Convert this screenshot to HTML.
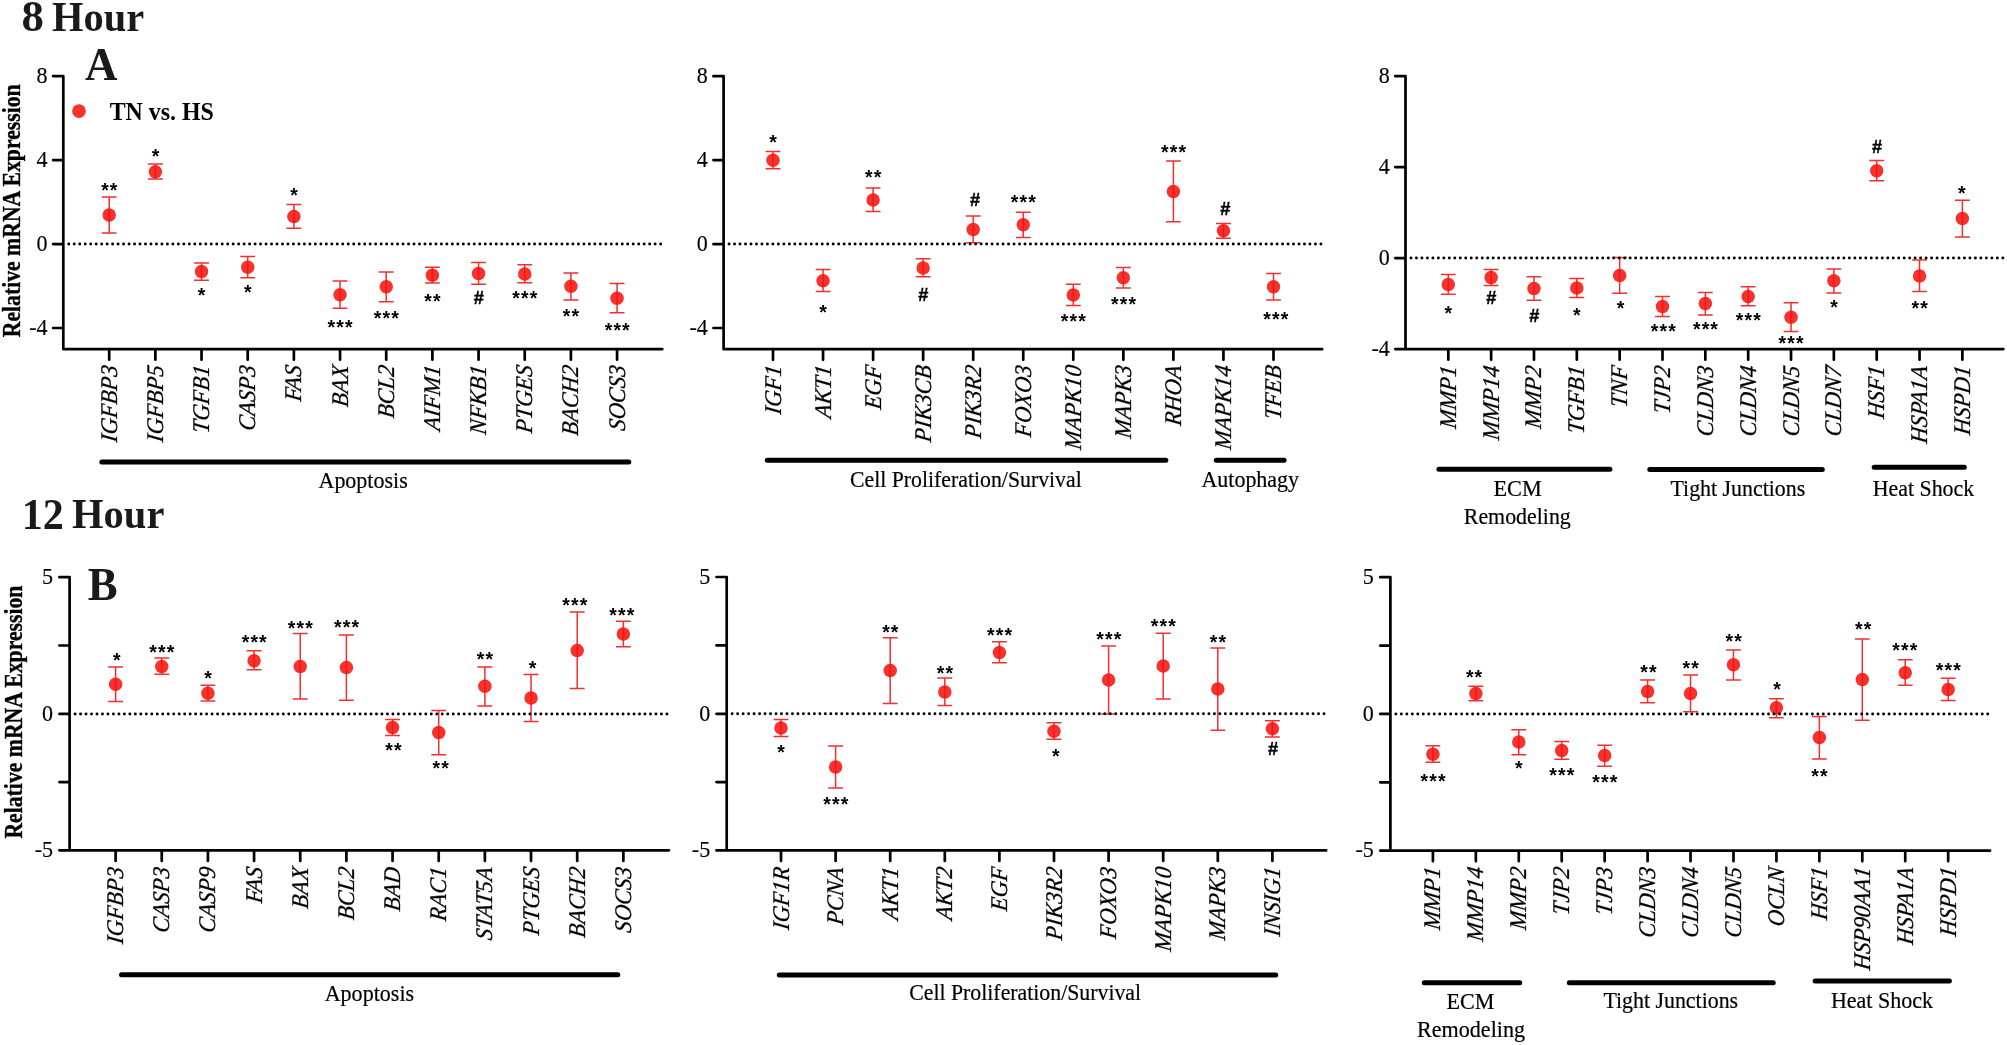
<!DOCTYPE html>
<html lang="en"><head><meta charset="utf-8"><title>Relative mRNA Expression</title>
<style>html,body{margin:0;padding:0;background:#fff}svg{display:block;filter:blur(.45px)}.ax{stroke:#000;stroke-width:2.7;fill:none;stroke-linecap:round;stroke-linejoin:round}.dot{stroke:#000;stroke-width:2.95;stroke-linecap:round;stroke-dasharray:0.01 5.47;fill:none}.bar{stroke:#000;stroke-width:5;stroke-linecap:round;fill:none}.eb{stroke:#f03030;stroke-width:1.5;fill:none}.core{stroke:#f41616;stroke-width:1.5;fill:none}.pt{fill:#f7312c}.g{font-family:'Liberation Serif', 'Times New Roman', Times, serif;font-style:italic;font-size:23.9px;fill:#000;text-anchor:end;stroke:#000;stroke-width:.25px}.tk{font-family:'Liberation Serif', 'Times New Roman', Times, serif;font-size:24px;fill:#000;text-anchor:end;stroke:#000;stroke-width:.15px}.grp{font-family:'Liberation Serif', 'Times New Roman', Times, serif;font-size:23.2px;fill:#000;stroke:#000;stroke-width:.2px}.b{font-family:'Liberation Serif', 'Times New Roman', Times, serif;font-weight:bold;fill:#1a1a1a}.k{fill:#000}.yt{stroke:#000;stroke-width:.35px}.st{font-family:'Liberation Sans', Arial, Helvetica, sans-serif;font-weight:bold;font-size:19.5px;fill:#000;text-anchor:middle}.s3{letter-spacing:1.15px}.h{font-size:18.2px;stroke:#000;stroke-width:.4px}</style></head><body>
<svg width="2007" height="1045" viewBox="0 0 2007 1045">
<rect width="2007" height="1045" fill="#fff"/>
<text class="b" x="21.6" y="31.3" font-size="44.8">8</text>
<text class="b" x="52.1" y="30.8" font-size="42.6" textLength="92.1" lengthAdjust="spacingAndGlyphs">Hour</text>
<text class="b" x="85.0" y="79.8" font-size="47.3" textLength="32.5" lengthAdjust="spacingAndGlyphs">A</text>
<text class="b" x="21.7" y="528.6" font-size="44.5" textLength="42.1" lengthAdjust="spacingAndGlyphs">12</text>
<text class="b" x="72.1" y="528.2" font-size="42.4" textLength="92.3" lengthAdjust="spacingAndGlyphs">Hour</text>
<text class="b" x="87.8" y="599.6" font-size="46.6" textLength="29.9" lengthAdjust="spacingAndGlyphs">B</text>
<circle class="pt" cx="79.0" cy="111.05" r="6.85"/>
<text class="b k" x="109.7" y="119.6" font-size="25.7" textLength="104.2" lengthAdjust="spacingAndGlyphs">TN vs. HS</text>
<text class="b k yt" font-size="24.6" transform="translate(19.9 337.3) rotate(-90)" textLength="253" lengthAdjust="spacingAndGlyphs">Relative mRNA Expression</text>
<text class="b k yt" font-size="24.6" transform="translate(21.7 838.6) rotate(-90)" textLength="253" lengthAdjust="spacingAndGlyphs">Relative mRNA Expression</text>
<g id="A1">
<path class="ax" d="M63.3 76.2V349.1H662.35M53.1 76.2H63.3M53.1 160.1H63.3M53.1 244.05H63.3M53.1 328H63.3M109.2 349.1V359.7M155.37 349.1V359.7M201.54 349.1V359.7M247.71 349.1V359.7M293.88 349.1V359.7M340.05 349.1V359.7M386.22 349.1V359.7M432.39 349.1V359.7M478.56 349.1V359.7M524.73 349.1V359.7M570.9 349.1V359.7M617.07 349.1V359.7"/>
<text class="tk" transform="translate(47.6 82.9) scale(0.92 1)">8</text>
<text class="tk" transform="translate(47.6 166.8) scale(0.92 1)">4</text>
<text class="tk" transform="translate(47.6 250.75) scale(0.92 1)">0</text>
<text class="tk" transform="translate(47.6 334.7) scale(0.92 1)">-4</text>
<text class="g" transform="translate(116.7 366) rotate(-90) scale(0.947 1) skewX(-7)">IGFBP3</text>
<text class="g" transform="translate(162.87 366) rotate(-90) scale(0.947 1) skewX(-7)">IGFBP5</text>
<text class="g" transform="translate(209.04 366) rotate(-90) scale(0.947 1) skewX(-7)">TGFB1</text>
<text class="g" transform="translate(255.21 366) rotate(-90) scale(0.947 1) skewX(-7)">CASP3</text>
<text class="g" transform="translate(301.38 366) rotate(-90) scale(0.947 1) skewX(-7)">FAS</text>
<text class="g" transform="translate(347.55 366) rotate(-90) scale(0.947 1) skewX(-7)">BAX</text>
<text class="g" transform="translate(393.72 366) rotate(-90) scale(0.947 1) skewX(-7)">BCL2</text>
<text class="g" transform="translate(439.89 366) rotate(-90) scale(0.947 1) skewX(-7)">AIFM1</text>
<text class="g" transform="translate(486.06 366) rotate(-90) scale(0.947 1) skewX(-7)">NFKB1</text>
<text class="g" transform="translate(532.23 366) rotate(-90) scale(0.947 1) skewX(-7)">PTGES</text>
<text class="g" transform="translate(578.4 366) rotate(-90) scale(0.947 1) skewX(-7)">BACH2</text>
<text class="g" transform="translate(624.57 366) rotate(-90) scale(0.947 1) skewX(-7)">SOCS3</text>
<path class="eb" d="M109.2 196.9V232.9M101.8 196.9H116.6M101.8 232.9H116.6"/>
<circle class="pt" cx="109.2" cy="215" r="6.75"/>
<path class="core" d="M109.2 208.55V221.45"/>
<text class="st s3" x="109.88" y="197.09">**</text>
<path class="eb" d="M155.37 164V179M147.97 164H162.77M147.97 179H162.77"/>
<circle class="pt" cx="155.37" cy="171.8" r="6.75"/>
<path class="core" d="M155.37 165.35V178.25"/>
<text class="st s3" x="156.04" y="163.29">*</text>
<path class="eb" d="M201.54 263V280.3M194.14 263H208.94M194.14 280.3H208.94"/>
<circle class="pt" cx="201.54" cy="271.4" r="6.75"/>
<path class="core" d="M201.54 264.95V277.85"/>
<text class="st s3" x="202.22" y="302.49">*</text>
<path class="eb" d="M247.71 256.4V277.7M240.31 256.4H255.11M240.31 277.7H255.11"/>
<circle class="pt" cx="247.71" cy="267.2" r="6.75"/>
<path class="core" d="M247.71 260.75V273.65"/>
<text class="st s3" x="248.38" y="299.09">*</text>
<path class="eb" d="M293.88 204.4V228.3M286.48 204.4H301.28M286.48 228.3H301.28"/>
<circle class="pt" cx="293.88" cy="216.5" r="6.75"/>
<path class="core" d="M293.88 210.05V222.95"/>
<text class="st s3" x="294.56" y="202.09">*</text>
<path class="eb" d="M340.05 281.1V308.2M332.65 281.1H347.45M332.65 308.2H347.45"/>
<circle class="pt" cx="340.05" cy="294.7" r="6.75"/>
<path class="core" d="M340.05 288.25V301.15"/>
<text class="st s3" x="340.73" y="333.79">***</text>
<path class="eb" d="M386.22 272V301.8M378.82 272H393.62M378.82 301.8H393.62"/>
<circle class="pt" cx="386.22" cy="286.8" r="6.75"/>
<path class="core" d="M386.22 280.35V293.25"/>
<text class="st s3" x="386.89" y="324.69">***</text>
<path class="eb" d="M432.39 267.3V283.1M424.99 267.3H439.79M424.99 283.1H439.79"/>
<circle class="pt" cx="432.39" cy="275.3" r="6.75"/>
<path class="core" d="M432.39 268.85V281.75"/>
<text class="st s3" x="433.06" y="308.39">**</text>
<path class="eb" d="M478.56 262.6V284.2M471.16 262.6H485.96M471.16 284.2H485.96"/>
<circle class="pt" cx="478.56" cy="273.5" r="6.75"/>
<path class="core" d="M478.56 267.05V279.95"/>
<text class="st h" x="478.81" y="303.6">#</text>
<path class="eb" d="M524.73 264.7V282.8M517.33 264.7H532.13M517.33 282.8H532.13"/>
<circle class="pt" cx="524.73" cy="274" r="6.75"/>
<path class="core" d="M524.73 267.55V280.45"/>
<text class="st s3" x="525.41" y="304.99">***</text>
<path class="eb" d="M570.9 272.9V299.9M563.5 272.9H578.3M563.5 299.9H578.3"/>
<circle class="pt" cx="570.9" cy="286.3" r="6.75"/>
<path class="core" d="M570.9 279.85V292.75"/>
<text class="st s3" x="571.58" y="323.29">**</text>
<path class="eb" d="M617.07 283.4V312.7M609.67 283.4H624.47M609.67 312.7H624.47"/>
<circle class="pt" cx="617.07" cy="298.3" r="6.75"/>
<path class="core" d="M617.07 291.85V304.75"/>
<text class="st s3" x="617.75" y="337.19">***</text>
<line class="dot" x1="68.77" y1="244.05" x2="663" y2="244.05"/>
<line class="bar" x1="101.8" y1="462" x2="628.8" y2="462"/>
<text class="grp" x="318.5" y="488.3" textLength="89.2" lengthAdjust="spacingAndGlyphs">Apoptosis</text>
</g>
<g id="A2">
<path class="ax" d="M723.6 76.2V349.2H1322.15M713.4 76.2H723.6M713.4 160.1H723.6M713.4 244.05H723.6M713.4 328H723.6M773 349.2V359.8M823.05 349.2V359.8M873.1 349.2V359.8M923.15 349.2V359.8M973.2 349.2V359.8M1023.25 349.2V359.8M1073.3 349.2V359.8M1123.35 349.2V359.8M1173.4 349.2V359.8M1223.45 349.2V359.8M1273.5 349.2V359.8"/>
<text class="tk" transform="translate(707.9 82.9) scale(0.92 1)">8</text>
<text class="tk" transform="translate(707.9 166.8) scale(0.92 1)">4</text>
<text class="tk" transform="translate(707.9 250.75) scale(0.92 1)">0</text>
<text class="tk" transform="translate(707.9 334.7) scale(0.92 1)">-4</text>
<text class="g" transform="translate(780.5 366) rotate(-90) scale(0.947 1) skewX(-7)">IGF1</text>
<text class="g" transform="translate(830.55 366) rotate(-90) scale(0.947 1) skewX(-7)">AKT1</text>
<text class="g" transform="translate(880.6 366) rotate(-90) scale(0.947 1) skewX(-7)">EGF</text>
<text class="g" transform="translate(930.65 366) rotate(-90) scale(0.947 1) skewX(-7)">PIK3CB</text>
<text class="g" transform="translate(980.7 366) rotate(-90) scale(0.947 1) skewX(-7)">PIK3R2</text>
<text class="g" transform="translate(1030.75 366) rotate(-90) scale(0.947 1) skewX(-7)">FOXO3</text>
<text class="g" transform="translate(1080.8 366) rotate(-90) scale(0.947 1) skewX(-7)">MAPK10</text>
<text class="g" transform="translate(1130.85 366) rotate(-90) scale(0.947 1) skewX(-7)">MAPK3</text>
<text class="g" transform="translate(1180.9 366) rotate(-90) scale(0.947 1) skewX(-7)">RHOA</text>
<text class="g" transform="translate(1230.95 366) rotate(-90) scale(0.947 1) skewX(-7)">MAPK14</text>
<text class="g" transform="translate(1281 366) rotate(-90) scale(0.947 1) skewX(-7)">TFEB</text>
<path class="eb" d="M773 151.6V168.7M765.6 151.6H780.4M765.6 168.7H780.4"/>
<circle class="pt" cx="773" cy="160.2" r="6.75"/>
<path class="core" d="M773 153.75V166.65"/>
<text class="st s3" x="773.68" y="148.89">*</text>
<path class="eb" d="M823.05 269.5V291.6M815.65 269.5H830.45M815.65 291.6H830.45"/>
<circle class="pt" cx="823.05" cy="280.7" r="6.75"/>
<path class="core" d="M823.05 274.25V287.15"/>
<text class="st s3" x="823.73" y="318.99">*</text>
<path class="eb" d="M873.1 187.9V211.4M865.7 187.9H880.5M865.7 211.4H880.5"/>
<circle class="pt" cx="873.1" cy="199.9" r="6.75"/>
<path class="core" d="M873.1 193.45V206.35"/>
<text class="st s3" x="873.78" y="184.09">**</text>
<path class="eb" d="M923.15 258.8V276.7M915.75 258.8H930.55M915.75 276.7H930.55"/>
<circle class="pt" cx="923.15" cy="267.9" r="6.75"/>
<path class="core" d="M923.15 261.45V274.35"/>
<text class="st h" x="923.4" y="301.4">#</text>
<path class="eb" d="M973.2 216V242.8M965.8 216H980.6M965.8 242.8H980.6"/>
<circle class="pt" cx="973.2" cy="229.6" r="6.75"/>
<path class="core" d="M973.2 223.15V236.05"/>
<text class="st h" x="975.05" y="205.7">#</text>
<path class="eb" d="M1023.25 212.2V237.6M1015.85 212.2H1030.65M1015.85 237.6H1030.65"/>
<circle class="pt" cx="1023.25" cy="224.7" r="6.75"/>
<path class="core" d="M1023.25 218.25V231.15"/>
<text class="st s3" x="1023.93" y="208.59">***</text>
<path class="eb" d="M1073.3 284.2V305.5M1065.9 284.2H1080.7M1065.9 305.5H1080.7"/>
<circle class="pt" cx="1073.3" cy="295.1" r="6.75"/>
<path class="core" d="M1073.3 288.65V301.55"/>
<text class="st s3" x="1073.97" y="328.09">***</text>
<path class="eb" d="M1123.35 267.5V287.9M1115.95 267.5H1130.75M1115.95 287.9H1130.75"/>
<circle class="pt" cx="1123.35" cy="277.8" r="6.75"/>
<path class="core" d="M1123.35 271.35V284.25"/>
<text class="st s3" x="1124.02" y="310.79">***</text>
<path class="eb" d="M1173.4 161.1V221.8M1166 161.1H1180.8M1166 221.8H1180.8"/>
<circle class="pt" cx="1173.4" cy="191.5" r="6.75"/>
<path class="core" d="M1173.4 185.05V197.95"/>
<text class="st s3" x="1174.08" y="158.59">***</text>
<path class="eb" d="M1223.45 223.6V238.3M1216.05 223.6H1230.85M1216.05 238.3H1230.85"/>
<circle class="pt" cx="1223.45" cy="230.8" r="6.75"/>
<path class="core" d="M1223.45 224.35V237.25"/>
<text class="st h" x="1225.3" y="215.3">#</text>
<path class="eb" d="M1273.5 273.5V300.1M1266.1 273.5H1280.9M1266.1 300.1H1280.9"/>
<circle class="pt" cx="1273.5" cy="286.8" r="6.75"/>
<path class="core" d="M1273.5 280.35V293.25"/>
<text class="st s3" x="1276.38" y="325.69">***</text>
<line class="dot" x1="729.07" y1="244.05" x2="1323" y2="244.05"/>
<line class="bar" x1="767.3" y1="460.2" x2="1165.8" y2="460.2"/>
<text class="grp" x="850" y="487" textLength="231.7" lengthAdjust="spacingAndGlyphs">Cell Proliferation/Survival</text>
<line class="bar" x1="1216.3" y1="460.2" x2="1284.1" y2="460.2"/>
<text class="grp" x="1201.5" y="487" textLength="97.5" lengthAdjust="spacingAndGlyphs">Autophagy</text>
</g>
<g id="A3">
<path class="ax" d="M1405.5 76.2V349.1H2003.35M1395.3 76.2H1405.5M1395.3 167.2H1405.5M1395.3 258.1H1405.5M1395.3 349.1H1405.5M1448.3 349.1V359.7M1491.14 349.1V359.7M1533.98 349.1V359.7M1576.82 349.1V359.7M1619.66 349.1V359.7M1662.5 349.1V359.7M1705.34 349.1V359.7M1748.18 349.1V359.7M1791.02 349.1V359.7M1833.86 349.1V359.7M1876.7 349.1V359.7M1919.54 349.1V359.7M1962.38 349.1V359.7"/>
<text class="tk" transform="translate(1389.8 82.9) scale(0.92 1)">8</text>
<text class="tk" transform="translate(1389.8 173.9) scale(0.92 1)">4</text>
<text class="tk" transform="translate(1389.8 264.8) scale(0.92 1)">0</text>
<text class="tk" transform="translate(1389.8 355.8) scale(0.92 1)">-4</text>
<text class="g" transform="translate(1455.8 366.5) rotate(-90) scale(0.947 1) skewX(-7)">MMP1</text>
<text class="g" transform="translate(1498.64 366.5) rotate(-90) scale(0.947 1) skewX(-7)">MMP14</text>
<text class="g" transform="translate(1541.48 366.5) rotate(-90) scale(0.947 1) skewX(-7)">MMP2</text>
<text class="g" transform="translate(1584.32 366.5) rotate(-90) scale(0.947 1) skewX(-7)">TGFB1</text>
<text class="g" transform="translate(1627.16 366.5) rotate(-90) scale(0.947 1) skewX(-7)">TNF</text>
<text class="g" transform="translate(1670 366.5) rotate(-90) scale(0.947 1) skewX(-7)">TJP2</text>
<text class="g" transform="translate(1712.84 366.5) rotate(-90) scale(0.947 1) skewX(-7)">CLDN3</text>
<text class="g" transform="translate(1755.68 366.5) rotate(-90) scale(0.947 1) skewX(-7)">CLDN4</text>
<text class="g" transform="translate(1798.52 366.5) rotate(-90) scale(0.947 1) skewX(-7)">CLDN5</text>
<text class="g" transform="translate(1841.36 366.5) rotate(-90) scale(0.947 1) skewX(-7)">CLDN7</text>
<text class="g" transform="translate(1884.2 366.5) rotate(-90) scale(0.947 1) skewX(-7)">HSF1</text>
<text class="g" transform="translate(1927.04 366.5) rotate(-90) scale(0.947 1) skewX(-7)">HSPA1A</text>
<text class="g" transform="translate(1969.88 366.5) rotate(-90) scale(0.947 1) skewX(-7)">HSPD1</text>
<path class="eb" d="M1448.3 274.6V294.3M1440.9 274.6H1455.7M1440.9 294.3H1455.7"/>
<circle class="pt" cx="1448.3" cy="284.4" r="6.75"/>
<path class="core" d="M1448.3 277.95V290.85"/>
<text class="st s3" x="1448.97" y="320.39">*</text>
<path class="eb" d="M1491.14 269.5V285.5M1483.74 269.5H1498.54M1483.74 285.5H1498.54"/>
<circle class="pt" cx="1491.14" cy="277.5" r="6.75"/>
<path class="core" d="M1491.14 271.05V283.95"/>
<text class="st h" x="1491.39" y="304.1">#</text>
<path class="eb" d="M1533.98 276.7V300.2M1526.58 276.7H1541.38M1526.58 300.2H1541.38"/>
<circle class="pt" cx="1533.98" cy="288.4" r="6.75"/>
<path class="core" d="M1533.98 281.95V294.85"/>
<text class="st h" x="1534.23" y="321.7">#</text>
<path class="eb" d="M1576.82 278.6V297.5M1569.42 278.6H1584.22M1569.42 297.5H1584.22"/>
<circle class="pt" cx="1576.82" cy="287.9" r="6.75"/>
<path class="core" d="M1576.82 281.45V294.35"/>
<text class="st s3" x="1577.49" y="322.49">*</text>
<path class="eb" d="M1619.66 257.5V293.2M1612.26 257.5H1627.06M1612.26 293.2H1627.06"/>
<circle class="pt" cx="1619.66" cy="275.4" r="6.75"/>
<path class="core" d="M1619.66 268.95V281.85"/>
<text class="st s3" x="1621.13" y="314.79">*</text>
<path class="eb" d="M1662.5 296.4V316.4M1655.1 296.4H1669.9M1655.1 316.4H1669.9"/>
<circle class="pt" cx="1662.5" cy="306.6" r="6.75"/>
<path class="core" d="M1662.5 300.15V313.05"/>
<text class="st s3" x="1663.97" y="338.19">***</text>
<path class="eb" d="M1705.34 292.4V315.1M1697.94 292.4H1712.74M1697.94 315.1H1712.74"/>
<circle class="pt" cx="1705.34" cy="303.4" r="6.75"/>
<path class="core" d="M1705.34 296.95V309.85"/>
<text class="st s3" x="1706.01" y="336.09">***</text>
<path class="eb" d="M1748.18 286.8V305.8M1740.78 286.8H1755.58M1740.78 305.8H1755.58"/>
<circle class="pt" cx="1748.18" cy="296.4" r="6.75"/>
<path class="core" d="M1748.18 289.95V302.85"/>
<text class="st s3" x="1748.85" y="327.29">***</text>
<path class="eb" d="M1791.02 302.8V331.4M1783.62 302.8H1798.42M1783.62 331.4H1798.42"/>
<circle class="pt" cx="1791.02" cy="317.2" r="6.75"/>
<path class="core" d="M1791.02 310.75V323.65"/>
<text class="st s3" x="1791.69" y="349.69">***</text>
<path class="eb" d="M1833.86 269.1V293M1826.46 269.1H1841.26M1826.46 293H1841.26"/>
<circle class="pt" cx="1833.86" cy="280.7" r="6.75"/>
<path class="core" d="M1833.86 274.25V287.15"/>
<text class="st s3" x="1834.54" y="313.99">*</text>
<path class="eb" d="M1876.7 160.4V180.7M1869.3 160.4H1884.1M1869.3 180.7H1884.1"/>
<circle class="pt" cx="1876.7" cy="170.8" r="6.75"/>
<path class="core" d="M1876.7 164.35V177.25"/>
<text class="st h" x="1876.95" y="152.5">#</text>
<path class="eb" d="M1919.54 260V291.5M1912.14 260H1926.94M1912.14 291.5H1926.94"/>
<circle class="pt" cx="1919.54" cy="275.9" r="6.75"/>
<path class="core" d="M1919.54 269.45V282.35"/>
<text class="st s3" x="1920.21" y="315.29">**</text>
<path class="eb" d="M1962.38 200.2V237M1954.98 200.2H1969.78M1954.98 237H1969.78"/>
<circle class="pt" cx="1962.38" cy="218.6" r="6.75"/>
<path class="core" d="M1962.38 212.15V225.05"/>
<text class="st s3" x="1962.26" y="199.69">*</text>
<line class="dot" x1="1410.97" y1="258.05" x2="2004" y2="258.05"/>
<line class="bar" x1="1438.9" y1="469.3" x2="1609.9" y2="469.3"/>
<text class="grp" x="1493.5" y="496" textLength="48.2" lengthAdjust="spacingAndGlyphs">ECM</text>
<text class="grp" x="1463.8" y="523.7" textLength="107" lengthAdjust="spacingAndGlyphs">Remodeling</text>
<line class="bar" x1="1649.8" y1="469.6" x2="1822.3" y2="469.6"/>
<text class="grp" x="1670.5" y="496" textLength="134.7" lengthAdjust="spacingAndGlyphs">Tight Junctions</text>
<line class="bar" x1="1874.2" y1="467.3" x2="1964.3" y2="467.3"/>
<text class="grp" x="1872.7" y="496" textLength="101.5" lengthAdjust="spacingAndGlyphs">Heat Shock</text>
</g>
<g id="B1">
<path class="ax" d="M69.6 577.2V850.3H668.95M59.4 577.2H69.6M59.4 645.5H69.6M59.4 713.8H69.6M59.4 782.1H69.6M59.4 850.3H69.6M115.6 850.3V860.9M161.76 850.3V860.9M207.92 850.3V860.9M254.08 850.3V860.9M300.24 850.3V860.9M346.4 850.3V860.9M392.56 850.3V860.9M438.72 850.3V860.9M484.88 850.3V860.9M531.04 850.3V860.9M577.2 850.3V860.9M623.36 850.3V860.9"/>
<text class="tk" transform="translate(53.1 583.9) scale(0.92 1)">5</text>
<text class="tk" transform="translate(53.1 720.5) scale(0.92 1)">0</text>
<text class="tk" transform="translate(53.1 857) scale(0.92 1)">-5</text>
<text class="g" transform="translate(123.1 867.8) rotate(-90) scale(0.947 1) skewX(-7)">IGFBP3</text>
<text class="g" transform="translate(169.26 867.8) rotate(-90) scale(0.947 1) skewX(-7)">CASP3</text>
<text class="g" transform="translate(215.42 867.8) rotate(-90) scale(0.947 1) skewX(-7)">CASP9</text>
<text class="g" transform="translate(261.58 867.8) rotate(-90) scale(0.947 1) skewX(-7)">FAS</text>
<text class="g" transform="translate(307.74 867.8) rotate(-90) scale(0.947 1) skewX(-7)">BAX</text>
<text class="g" transform="translate(353.9 867.8) rotate(-90) scale(0.947 1) skewX(-7)">BCL2</text>
<text class="g" transform="translate(400.06 867.8) rotate(-90) scale(0.947 1) skewX(-7)">BAD</text>
<text class="g" transform="translate(446.22 867.8) rotate(-90) scale(0.947 1) skewX(-7)">RAC1</text>
<text class="g" transform="translate(492.38 867.8) rotate(-90) scale(0.947 1) skewX(-7)">STAT5A</text>
<text class="g" transform="translate(538.54 867.8) rotate(-90) scale(0.947 1) skewX(-7)">PTGES</text>
<text class="g" transform="translate(584.7 867.8) rotate(-90) scale(0.947 1) skewX(-7)">BACH2</text>
<text class="g" transform="translate(630.86 867.8) rotate(-90) scale(0.947 1) skewX(-7)">SOCS3</text>
<path class="eb" d="M115.6 666.9V701.5M108.2 666.9H123M108.2 701.5H123"/>
<circle class="pt" cx="115.6" cy="684.3" r="6.75"/>
<path class="core" d="M115.6 677.85V690.75"/>
<text class="st s3" x="117.27" y="666.79">*</text>
<path class="eb" d="M161.76 658V674.2M154.36 658H169.16M154.36 674.2H169.16"/>
<circle class="pt" cx="161.76" cy="666.4" r="6.75"/>
<path class="core" d="M161.76 659.95V672.85"/>
<text class="st s3" x="162.43" y="658.59">***</text>
<path class="eb" d="M207.92 685.3V700.9M200.52 685.3H215.32M200.52 700.9H215.32"/>
<circle class="pt" cx="207.92" cy="693.3" r="6.75"/>
<path class="core" d="M207.92 686.85V699.75"/>
<text class="st s3" x="208.59" y="685.29">*</text>
<path class="eb" d="M254.08 650.8V669.8M246.68 650.8H261.48M246.68 669.8H261.48"/>
<circle class="pt" cx="254.08" cy="660.8" r="6.75"/>
<path class="core" d="M254.08 654.35V667.25"/>
<text class="st s3" x="254.75" y="648.89">***</text>
<path class="eb" d="M300.24 633.5V698.9M292.84 633.5H307.64M292.84 698.9H307.64"/>
<circle class="pt" cx="300.24" cy="666.4" r="6.75"/>
<path class="core" d="M300.24 659.95V672.85"/>
<text class="st s3" x="300.92" y="634.89">***</text>
<path class="eb" d="M346.4 634.9V700.3M339 634.9H353.8M339 700.3H353.8"/>
<circle class="pt" cx="346.4" cy="667.4" r="6.75"/>
<path class="core" d="M346.4 660.95V673.85"/>
<text class="st s3" x="347.07" y="634.29">***</text>
<path class="eb" d="M392.56 719.4V735.5M385.16 719.4H399.96M385.16 735.5H399.96"/>
<circle class="pt" cx="392.56" cy="727.5" r="6.75"/>
<path class="core" d="M392.56 721.05V733.95"/>
<text class="st s3" x="394.03" y="756.99">**</text>
<path class="eb" d="M438.72 710.6V754.7M431.32 710.6H446.12M431.32 754.7H446.12"/>
<circle class="pt" cx="438.72" cy="732.5" r="6.75"/>
<path class="core" d="M438.72 726.05V738.95"/>
<text class="st s3" x="441.3" y="774.89">**</text>
<path class="eb" d="M484.88 667V705.9M477.48 667H492.28M477.48 705.9H492.28"/>
<circle class="pt" cx="484.88" cy="686.2" r="6.75"/>
<path class="core" d="M484.88 679.75V692.65"/>
<text class="st s3" x="485.56" y="666.09">**</text>
<path class="eb" d="M531.04 674.4V721.5M523.64 674.4H538.44M523.64 721.5H538.44"/>
<circle class="pt" cx="531.04" cy="697.9" r="6.75"/>
<path class="core" d="M531.04 691.45V704.35"/>
<text class="st s3" x="533.01" y="674.59">*</text>
<path class="eb" d="M577.2 612V688.6M569.8 612H584.6M569.8 688.6H584.6"/>
<circle class="pt" cx="577.2" cy="650.4" r="6.75"/>
<path class="core" d="M577.2 643.95V656.85"/>
<text class="st s3" x="575.38" y="612.19">***</text>
<path class="eb" d="M623.36 621.2V646.7M615.96 621.2H630.76M615.96 646.7H630.76"/>
<circle class="pt" cx="623.36" cy="633.9" r="6.75"/>
<path class="core" d="M623.36 627.45V640.35"/>
<text class="st s3" x="622.44" y="622.49">***</text>
<line class="dot" x1="75.07" y1="713.9" x2="669.5" y2="713.9"/>
<line class="bar" x1="121.5" y1="974.7" x2="617.8" y2="974.7"/>
<text class="grp" x="324.7" y="1000.8" textLength="89.4" lengthAdjust="spacingAndGlyphs">Apoptosis</text>
</g>
<g id="B2">
<path class="ax" d="M726.7 577V850.4H1326.15M716.5 577H726.7M716.5 645.4H726.7M716.5 713.8H726.7M716.5 782.1H726.7M716.5 850.4H726.7M781 850.4V861M835.6 850.4V861M890.2 850.4V861M944.8 850.4V861M999.4 850.4V861M1054 850.4V861M1108.6 850.4V861M1163.2 850.4V861M1217.8 850.4V861M1272.4 850.4V861"/>
<text class="tk" transform="translate(710.2 583.7) scale(0.92 1)">5</text>
<text class="tk" transform="translate(710.2 720.5) scale(0.92 1)">0</text>
<text class="tk" transform="translate(710.2 857.1) scale(0.92 1)">-5</text>
<text class="g" transform="translate(788.5 867.8) rotate(-90) scale(0.947 1) skewX(-7)">IGF1R</text>
<text class="g" transform="translate(843.1 867.8) rotate(-90) scale(0.947 1) skewX(-7)">PCNA</text>
<text class="g" transform="translate(897.7 867.8) rotate(-90) scale(0.947 1) skewX(-7)">AKT1</text>
<text class="g" transform="translate(952.3 867.8) rotate(-90) scale(0.947 1) skewX(-7)">AKT2</text>
<text class="g" transform="translate(1006.9 867.8) rotate(-90) scale(0.947 1) skewX(-7)">EGF</text>
<text class="g" transform="translate(1061.5 867.8) rotate(-90) scale(0.947 1) skewX(-7)">PIK3R2</text>
<text class="g" transform="translate(1116.1 867.8) rotate(-90) scale(0.947 1) skewX(-7)">FOXO3</text>
<text class="g" transform="translate(1170.7 867.8) rotate(-90) scale(0.947 1) skewX(-7)">MAPK10</text>
<text class="g" transform="translate(1225.3 867.8) rotate(-90) scale(0.947 1) skewX(-7)">MAPK3</text>
<text class="g" transform="translate(1279.9 867.8) rotate(-90) scale(0.947 1) skewX(-7)">INSIG1</text>
<path class="eb" d="M781 719.6V736.4M773.6 719.6H788.4M773.6 736.4H788.4"/>
<circle class="pt" cx="781" cy="727.9" r="6.75"/>
<path class="core" d="M781 721.45V734.35"/>
<text class="st s3" x="781.68" y="759.29">*</text>
<path class="eb" d="M835.6 745.9V788M828.2 745.9H843M828.2 788H843"/>
<circle class="pt" cx="835.6" cy="767" r="6.75"/>
<path class="core" d="M835.6 760.55V773.45"/>
<text class="st s3" x="836.28" y="810.59">***</text>
<path class="eb" d="M890.2 637.8V703.4M882.8 637.8H897.6M882.8 703.4H897.6"/>
<circle class="pt" cx="890.2" cy="670.6" r="6.75"/>
<path class="core" d="M890.2 664.15V677.05"/>
<text class="st s3" x="890.88" y="639.29">**</text>
<path class="eb" d="M944.8 678V705.5M937.4 678H952.2M937.4 705.5H952.2"/>
<circle class="pt" cx="944.8" cy="691.9" r="6.75"/>
<path class="core" d="M944.8 685.45V698.35"/>
<text class="st s3" x="945.48" y="680.09">**</text>
<path class="eb" d="M999.4 641.8V662.8M992 641.8H1006.8M992 662.8H1006.8"/>
<circle class="pt" cx="999.4" cy="652.4" r="6.75"/>
<path class="core" d="M999.4 645.95V658.85"/>
<text class="st s3" x="1000.08" y="641.59">***</text>
<path class="eb" d="M1054 722.8V739.2M1046.6 722.8H1061.4M1046.6 739.2H1061.4"/>
<circle class="pt" cx="1054" cy="731.2" r="6.75"/>
<path class="core" d="M1054 724.75V737.65"/>
<text class="st s3" x="1056.27" y="762.59">*</text>
<path class="eb" d="M1108.6 646V714M1101.2 646H1116M1101.2 714H1116"/>
<circle class="pt" cx="1108.6" cy="679.9" r="6.75"/>
<path class="core" d="M1108.6 673.45V686.35"/>
<text class="st s3" x="1109.27" y="646.29">***</text>
<path class="eb" d="M1163.2 633.2V699M1155.8 633.2H1170.6M1155.8 699H1170.6"/>
<circle class="pt" cx="1163.2" cy="666.1" r="6.75"/>
<path class="core" d="M1163.2 659.65V672.55"/>
<text class="st s3" x="1163.88" y="633.19">***</text>
<path class="eb" d="M1217.8 647.9V730.2M1210.4 647.9H1225.2M1210.4 730.2H1225.2"/>
<circle class="pt" cx="1217.8" cy="689.1" r="6.75"/>
<path class="core" d="M1217.8 682.65V695.55"/>
<text class="st s3" x="1218.47" y="649.49">**</text>
<path class="eb" d="M1272.4 720.7V736.9M1265 720.7H1279.8M1265 736.9H1279.8"/>
<circle class="pt" cx="1272.4" cy="728.7" r="6.75"/>
<path class="core" d="M1272.4 722.25V735.15"/>
<text class="st h" x="1273.15" y="755.2">#</text>
<line class="dot" x1="732.17" y1="713.8" x2="1326.8" y2="713.8"/>
<line class="bar" x1="779.3" y1="974.9" x2="1275.7" y2="974.9"/>
<text class="grp" x="909.2" y="1000.4" textLength="231.9" lengthAdjust="spacingAndGlyphs">Cell Proliferation/Survival</text>
</g>
<g id="B3">
<path class="ax" d="M1390.4 577.2V850.6H1990.05M1380.2 577.2H1390.4M1380.2 645.6H1390.4M1380.2 713.9H1390.4M1380.2 782.3H1390.4M1380.2 850.6H1390.4M1432.9 850.6V861.2M1475.84 850.6V861.2M1518.78 850.6V861.2M1561.72 850.6V861.2M1604.66 850.6V861.2M1647.6 850.6V861.2M1690.54 850.6V861.2M1733.48 850.6V861.2M1776.42 850.6V861.2M1819.36 850.6V861.2M1862.3 850.6V861.2M1905.24 850.6V861.2M1948.18 850.6V861.2"/>
<text class="tk" transform="translate(1373.9 583.9) scale(0.92 1)">5</text>
<text class="tk" transform="translate(1373.9 720.6) scale(0.92 1)">0</text>
<text class="tk" transform="translate(1373.9 857.3) scale(0.92 1)">-5</text>
<text class="g" transform="translate(1440.4 867.8) rotate(-90) scale(0.947 1) skewX(-7)">MMP1</text>
<text class="g" transform="translate(1483.34 867.8) rotate(-90) scale(0.947 1) skewX(-7)">MMP14</text>
<text class="g" transform="translate(1526.28 867.8) rotate(-90) scale(0.947 1) skewX(-7)">MMP2</text>
<text class="g" transform="translate(1569.22 867.8) rotate(-90) scale(0.947 1) skewX(-7)">TJP2</text>
<text class="g" transform="translate(1612.16 867.8) rotate(-90) scale(0.947 1) skewX(-7)">TJP3</text>
<text class="g" transform="translate(1655.1 867.8) rotate(-90) scale(0.947 1) skewX(-7)">CLDN3</text>
<text class="g" transform="translate(1698.04 867.8) rotate(-90) scale(0.947 1) skewX(-7)">CLDN4</text>
<text class="g" transform="translate(1740.98 867.8) rotate(-90) scale(0.947 1) skewX(-7)">CLDN5</text>
<text class="g" transform="translate(1783.92 867.8) rotate(-90) scale(0.947 1) skewX(-7)">OCLN</text>
<text class="g" transform="translate(1826.86 867.8) rotate(-90) scale(0.947 1) skewX(-7)">HSF1</text>
<text class="g" transform="translate(1869.8 867.8) rotate(-90) scale(0.947 1) skewX(-7)">HSP90AA1</text>
<text class="g" transform="translate(1912.74 867.8) rotate(-90) scale(0.947 1) skewX(-7)">HSPA1A</text>
<text class="g" transform="translate(1955.68 867.8) rotate(-90) scale(0.947 1) skewX(-7)">HSPD1</text>
<path class="eb" d="M1432.9 745.8V762.3M1425.5 745.8H1440.3M1425.5 762.3H1440.3"/>
<circle class="pt" cx="1432.9" cy="754.2" r="6.75"/>
<path class="core" d="M1432.9 747.75V760.65"/>
<text class="st s3" x="1433.58" y="787.79">***</text>
<path class="eb" d="M1475.84 686.3V700.7M1468.44 686.3H1483.24M1468.44 700.7H1483.24"/>
<circle class="pt" cx="1475.84" cy="693.6" r="6.75"/>
<path class="core" d="M1475.84 687.15V700.05"/>
<text class="st s3" x="1474.62" y="684.19">**</text>
<path class="eb" d="M1518.78 729.8V754.7M1511.38 729.8H1526.18M1511.38 754.7H1526.18"/>
<circle class="pt" cx="1518.78" cy="742" r="6.75"/>
<path class="core" d="M1518.78 735.55V748.45"/>
<text class="st s3" x="1519.46" y="774.99">*</text>
<path class="eb" d="M1561.72 741.6V759.3M1554.32 741.6H1569.12M1554.32 759.3H1569.12"/>
<circle class="pt" cx="1561.72" cy="750.6" r="6.75"/>
<path class="core" d="M1561.72 744.15V757.05"/>
<text class="st s3" x="1562.39" y="782.09">***</text>
<path class="eb" d="M1604.66 745.2V766.2M1597.26 745.2H1612.06M1597.26 766.2H1612.06"/>
<circle class="pt" cx="1604.66" cy="755.6" r="6.75"/>
<path class="core" d="M1604.66 749.15V762.05"/>
<text class="st s3" x="1605.34" y="789.19">***</text>
<path class="eb" d="M1647.6 680V702.7M1640.2 680H1655M1640.2 702.7H1655"/>
<circle class="pt" cx="1647.6" cy="691.5" r="6.75"/>
<path class="core" d="M1647.6 685.05V697.95"/>
<text class="st s3" x="1649.08" y="678.89">**</text>
<path class="eb" d="M1690.54 675.1V711.7M1683.14 675.1H1697.94M1683.14 711.7H1697.94"/>
<circle class="pt" cx="1690.54" cy="693.5" r="6.75"/>
<path class="core" d="M1690.54 687.05V699.95"/>
<text class="st s3" x="1691.21" y="675.49">**</text>
<path class="eb" d="M1733.48 649.9V679.9M1726.08 649.9H1740.88M1726.08 679.9H1740.88"/>
<circle class="pt" cx="1733.48" cy="664.8" r="6.75"/>
<path class="core" d="M1733.48 658.35V671.25"/>
<text class="st s3" x="1734.15" y="648.19">**</text>
<path class="eb" d="M1776.42 698.7V717.8M1769.02 698.7H1783.82M1769.02 717.8H1783.82"/>
<circle class="pt" cx="1776.42" cy="707.8" r="6.75"/>
<path class="core" d="M1776.42 701.35V714.25"/>
<text class="st s3" x="1777.69" y="696.39">*</text>
<path class="eb" d="M1819.36 716.5V758.9M1811.96 716.5H1826.76M1811.96 758.9H1826.76"/>
<circle class="pt" cx="1819.36" cy="737.5" r="6.75"/>
<path class="core" d="M1819.36 731.05V743.95"/>
<text class="st s3" x="1820.04" y="783.49">**</text>
<path class="eb" d="M1862.3 638.9V720.3M1854.9 638.9H1869.7M1854.9 720.3H1869.7"/>
<circle class="pt" cx="1862.3" cy="679.5" r="6.75"/>
<path class="core" d="M1862.3 673.05V685.95"/>
<text class="st s3" x="1863.78" y="636.29">**</text>
<path class="eb" d="M1905.24 659.8V685.3M1897.84 659.8H1912.64M1897.84 685.3H1912.64"/>
<circle class="pt" cx="1905.24" cy="672.8" r="6.75"/>
<path class="core" d="M1905.24 666.35V679.25"/>
<text class="st s3" x="1905.32" y="656.79">***</text>
<path class="eb" d="M1948.18 678.2V700.6M1940.78 678.2H1955.58M1940.78 700.6H1955.58"/>
<circle class="pt" cx="1948.18" cy="689.5" r="6.75"/>
<path class="core" d="M1948.18 683.05V695.95"/>
<text class="st s3" x="1948.86" y="676.89">***</text>
<line class="dot" x1="1395.87" y1="714" x2="1990.3" y2="714"/>
<line class="bar" x1="1424.3" y1="982.8" x2="1519.7" y2="982.8"/>
<text class="grp" x="1446.4" y="1009" textLength="47.9" lengthAdjust="spacingAndGlyphs">ECM</text>
<text class="grp" x="1417" y="1037.2" textLength="108.1" lengthAdjust="spacingAndGlyphs">Remodeling</text>
<line class="bar" x1="1569.3" y1="982.8" x2="1773.2" y2="982.8"/>
<text class="grp" x="1603.4" y="1007.8" textLength="134.7" lengthAdjust="spacingAndGlyphs">Tight Junctions</text>
<line class="bar" x1="1815.1" y1="980.9" x2="1949.4" y2="980.9"/>
<text class="grp" x="1830.9" y="1007.8" textLength="102.2" lengthAdjust="spacingAndGlyphs">Heat Shock</text>
</g>
</svg></body></html>
